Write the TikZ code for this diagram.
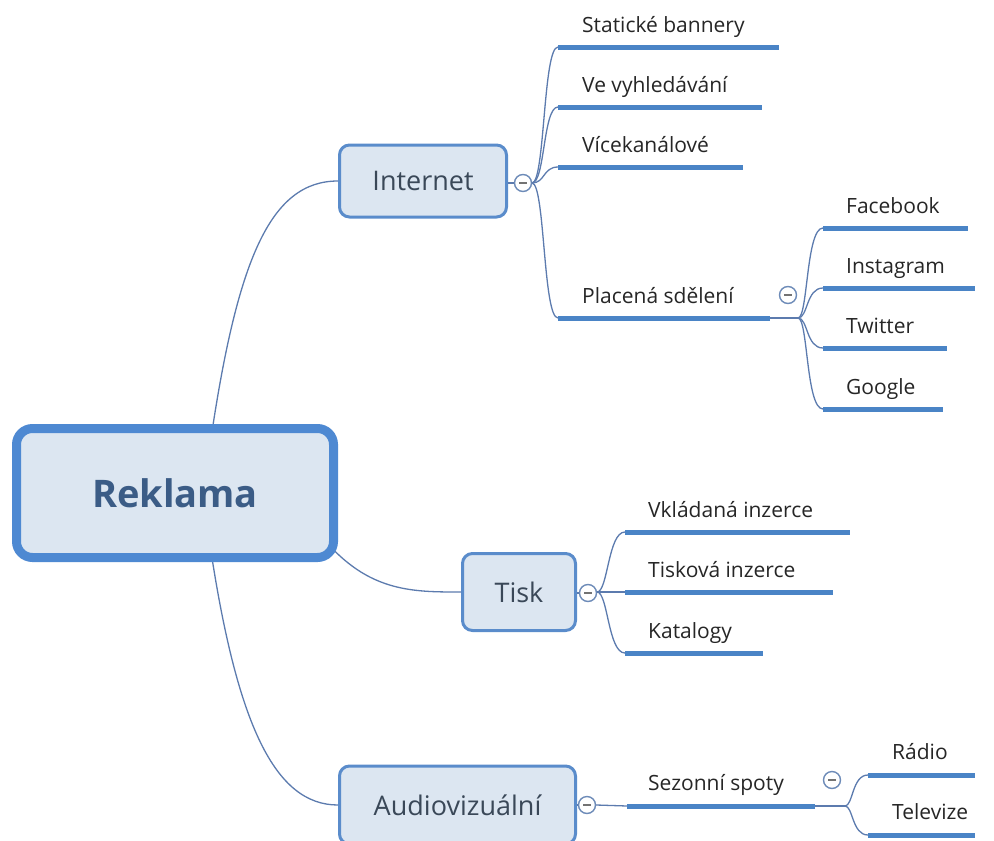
\documentclass[tikz,border=0pt]{standalone}
\usepackage{fontspec}
\setmainfont{Open Sans}
\definecolor{lineblue}{HTML}{4A84C6}
\definecolor{conncol}{HTML}{5C7BAE}
\definecolor{boxfill}{HTML}{DCE6F1}
\definecolor{boxborder}{HTML}{5A8CCB}
\definecolor{rootborder}{HTML}{4E89D2}
\definecolor{roottext}{HTML}{3B5C86}
\definecolor{boxtext}{HTML}{3A4858}
\definecolor{leaftext}{HTML}{262626}
\definecolor{circcol}{HTML}{6D8BB8}
\begin{document}
\begin{tikzpicture}[x=1pt,y=-1pt,
  rootbox/.style={draw=rootborder, line width=9pt, fill=boxfill, rounded corners=16pt,
    minimum width=317pt, minimum height=129pt, inner sep=0pt, text=roottext,
    font=\fontsize{38}{44}\selectfont\bfseries},
  mainbox/.style={draw=boxborder, line width=3pt, fill=boxfill, rounded corners=10pt,
    inner sep=0pt, text=boxtext, font=\fontsize{27}{32}\selectfont},
  leaf/.style={anchor=base west, inner sep=0pt, text=leaftext, font=\fontsize{21}{25}\selectfont},
  uline/.style={draw=lineblue, line width=5pt},
  conn/.style={draw=conncol, line width=1.3pt},
  collapse/.style={circle, draw=circcol, fill=white, line width=1.4pt, minimum size=17pt, inner sep=0pt},
  minus/.style={draw=gray!90!black, line width=1.1pt}]
\useasboundingbox (0,0) rectangle (994,841);

% ---------- coordinates for connectors ----------
\coordinate (rT) at (210,445);
\coordinate (rR) at (318,532);
\coordinate (rB) at (210,545);

% ---------- main nodes ----------
\node[mainbox, minimum width=167pt, minimum height=72pt] (internet) at (423,181) {Internet};
\node[mainbox, minimum width=113pt, minimum height=77pt] (tisk) at (519,592) {Tisk};
\node[mainbox, minimum width=236pt, minimum height=78pt] (audio) at (457.5,805) {Audiovizuální};

% root connectors (drawn before the root box)
\draw[conn] (rT) .. controls (237,260) and (270,181) .. (internet.west);
\draw[conn] (rR) .. controls (365,592) and (410,592) .. (tisk.west);
\draw[conn] (rB) .. controls (237,725) and (275,805) .. (audio.west);

\node[rootbox] (root) at (175,493) {Reklama};

% ---------- Internet branch ----------
\node[collapse] (c1) at (523,183) {};
\draw[minus] ([xshift=-4pt]c1.center) -- ([xshift=4pt]c1.center);
\draw[conn] (internet.east |- c1) -- (c1.west);
\coordinate (ib) at (532,183);

\node[leaf] (l1) at (582,32) {Statické bannery};
\node[leaf] (l2) at (582,92) {Ve vyhledávání};
\node[leaf] (l3) at (582,152) {Vícekanálové};
\node[leaf] (l4) at (582,303) {Placená sdělení};
\coordinate (u1a) at (558,47);  \coordinate (u1b) at (779,47);
\coordinate (u2a) at (558,107); \coordinate (u2b) at (762,107);
\coordinate (u3a) at (558,167); \coordinate (u3b) at (743,167);
\coordinate (u4a) at (558,318); \coordinate (u4b) at (770,318);
\foreach \i in {1,...,4} {\draw[uline] (u\i a) -- (u\i b);}
\draw[conn] (ib) .. controls (545,183) and (543,47) .. (u1a);
\draw[conn] (ib) .. controls (545,183) and (543,107) .. (u2a);
\draw[conn] (ib) .. controls (545,183) and (543,167) .. (u3a);
\draw[conn] (ib) .. controls (545,183) and (543,318) .. (u4a);

% Placena sdeleni children
\node[collapse] (c2) at (788,295) {};
\draw[minus] ([xshift=-4pt]c2.center) -- ([xshift=4pt]c2.center);
\coordinate (pb) at (798,318);
\draw[conn] (u4b) -- (pb);
\node[leaf] (f1) at (846,213) {Facebook};
\node[leaf] (f2) at (846,273) {Instagram};
\node[leaf] (f3) at (846,333) {Twitter};
\node[leaf] (f4) at (846,394) {Google};
\coordinate (v1a) at (823,228); \coordinate (v1b) at (968,228);
\coordinate (v2a) at (823,288); \coordinate (v2b) at (975,288);
\coordinate (v3a) at (823,348); \coordinate (v3b) at (947,348);
\coordinate (v4a) at (823,409); \coordinate (v4b) at (943,409);
\foreach \i in {1,...,4} {\draw[uline] (v\i a) -- (v\i b);}
\draw[conn] (pb) .. controls (808,318) and (806,228) .. (v1a);
\draw[conn] (pb) .. controls (808,318) and (806,288) .. (v2a);
\draw[conn] (pb) .. controls (808,318) and (806,348) .. (v3a);
\draw[conn] (pb) .. controls (808,318) and (806,409) .. (v4a);

% ---------- Tisk branch ----------
\node[collapse] (c3) at (588,593) {};
\draw[minus] ([xshift=-4pt]c3.center) -- ([xshift=4pt]c3.center);
\draw[conn] (tisk.east |- c3) -- (c3.west);
\coordinate (tb) at (597,592);
\node[leaf] (t1) at (648,517) {Vkládaná inzerce};
\node[leaf] (t2) at (648,577) {Tisková inzerce};
\node[leaf] (t3) at (648,638) {Katalogy};
\coordinate (w1a) at (625,532); \coordinate (w1b) at (850,532);
\coordinate (w2a) at (625,592); \coordinate (w2b) at (833,592);
\coordinate (w3a) at (625,653); \coordinate (w3b) at (763,653);
\foreach \i in {1,...,3} {\draw[uline] (w\i a) -- (w\i b);}
\draw[conn] (tb) .. controls (608,592) and (608,532) .. (w1a);
\draw[conn] (tb) -- (w2a);
\draw[conn] (tb) .. controls (608,592) and (608,653) .. (w3a);

% ---------- Audiovizualni branch ----------
\node[collapse] (c4) at (587,805) {};
\draw[minus] ([xshift=-4pt]c4.center) -- ([xshift=4pt]c4.center);
\draw[conn] (audio.east |- c4) -- (c4.west);
\node[leaf] (s1) at (648,790) {Sezonní spoty};
\coordinate (x1a) at (627,806); \coordinate (x1b) at (815,806);
\draw[conn] (c4.east) -- (x1a);
\draw[uline] (x1a) -- (x1b);
\node[collapse] (c5) at (832,780) {};
\draw[minus] ([xshift=-4pt]c5.center) -- ([xshift=4pt]c5.center);
\coordinate (ab) at (845,806);
\draw[conn] (x1b) -- (ab);
\node[leaf] (r1) at (892,759) {Rádio};
\node[leaf] (r2) at (892,819) {Televize};
\coordinate (y1a) at (868,775); \coordinate (y1b) at (975,775);
\coordinate (y2a) at (868,835); \coordinate (y2b) at (975,835);
\draw[uline] (y1a) -- (y1b);
\draw[uline] (y2a) -- (y2b);
\draw[conn] (ab) .. controls (853,806) and (852,775) .. (y1a);
\draw[conn] (ab) .. controls (853,806) and (852,835) .. (y2a);
\end{tikzpicture}
\end{document}
